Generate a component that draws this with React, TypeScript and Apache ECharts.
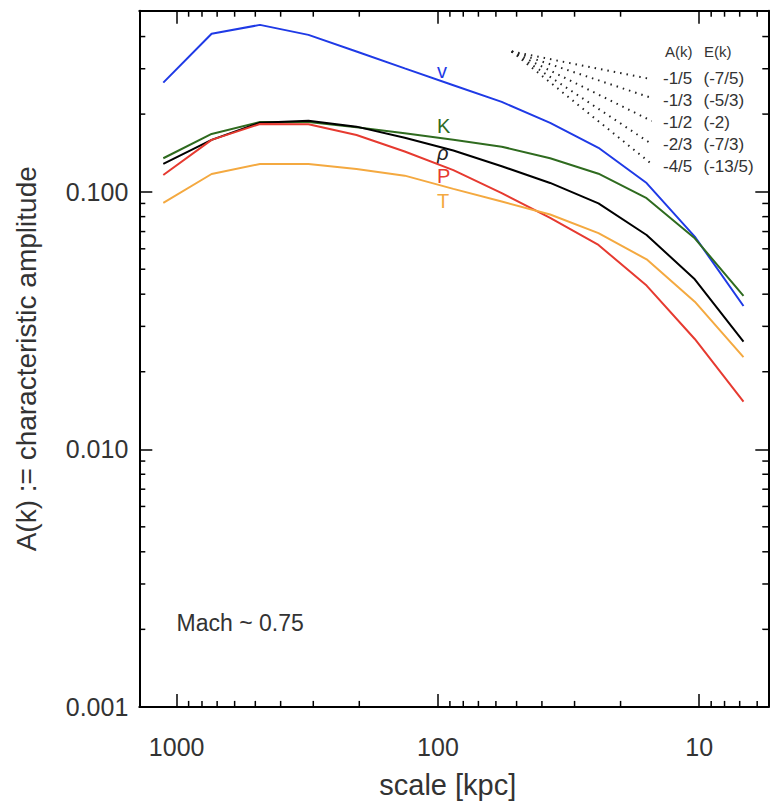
import React, { useEffect, useRef } from "react";
import * as echarts from "echarts";

// ---- data ----
const scaleKpc = [1125, 735, 480, 313, 205, 134, 87.3, 57.0, 37.2, 24.3, 15.9, 10.4, 6.77];
const ampV = [0.265, 0.41, 0.444, 0.406, 0.35, 0.301, 0.259, 0.223, 0.185, 0.148, 0.108, 0.0669, 0.036];
const ampK = [0.1348, 0.1675, 0.1865, 0.1865, 0.1778, 0.1684, 0.1592, 0.1495, 0.1348, 0.1174, 0.0943, 0.0659, 0.0394];
const ampRho = [0.1281, 0.1588, 0.1853, 0.1886, 0.1788, 0.1619, 0.1445, 0.1255, 0.1081, 0.09, 0.0679, 0.0457, 0.0262];
const ampP = [0.1161, 0.1588, 0.1831, 0.1826, 0.166, 0.1432, 0.1212, 0.0987, 0.0791, 0.0621, 0.0432, 0.0268, 0.0153];
const ampT = [0.0904, 0.1171, 0.1281, 0.1281, 0.1225, 0.1154, 0.1025, 0.0916, 0.0815, 0.069, 0.0546, 0.0374, 0.0228];

const seriesNames = ["v", "K", "ρ", "P", "T"];
const seriesColors = ["#1f3ae6", "#2f6b1f", "#000000", "#e63a30", "#f4a940"];

// power-law guide lines (A(k) slope, E(k) slope), start point and end points
const guideA = ["-1/5", "-1/3", "-1/2", "-2/3", "-4/5"];
const guideE = ["(-7/5)", "(-5/3)", "(-2)", "(-7/3)", "(-13/5)"];
const guideStart = [52.2, 0.35];
const guideEndX = 15.2;
const guideEndY = [0.273, 0.231, 0.188, 0.153, 0.128];

// axis extents and minor tick positions
const X_MIN = 5.44;
const X_MAX = 1390;
const Y_MIN = 0.001;
const Y_MAX = 0.504;
const minorXTicks = [900, 800, 700, 600, 500, 400, 300, 200, 90, 80, 70, 60, 50, 40, 30, 20, 9, 8, 7, 6];
const minorYTicks = [0.4, 0.3, 0.2, 0.09, 0.08, 0.07, 0.06, 0.05, 0.04, 0.03, 0.02, 0.009, 0.008, 0.007, 0.006, 0.005, 0.004, 0.003, 0.002];

const FONT = '"Liberation Sans", Arial, Helvetica, sans-serif';
const TXT = "#333333";

export default function App() {
  const ref = useRef<HTMLDivElement>(null);
  useEffect(() => {
    if (!ref.current) return;
    const chart = echarts.init(ref.current, undefined, { renderer: "svg" });

    const tickLine = { color: "#000", width: 1.5 };
    const axisLine = { show: true, onZero: false, lineStyle: { color: "#000", width: 2 } };

    const dataSeries = [ampV, ampK, ampRho, ampP, ampT].map((arr, i) => ({
      type: "line",
      name: seriesNames[i],
      data: scaleKpc.map((x, j) => [x, arr[j]]),
      symbol: "none",
      lineStyle: { color: seriesColors[i], width: 2 },
      z: 3,
    }));

    const guideSeries = guideEndY.map((ey) => ({
      type: "line",
      data: [guideStart, [guideEndX, ey]],
      symbol: "none",
      lineStyle: { color: "#222", width: 2, type: [1.5, 5] },
      z: 2,
    }));

    const minorX = {
      type: "custom",
      xAxisIndex: 0,
      yAxisIndex: 0,
      silent: true,
      clip: false,
      data: minorXTicks.map((v) => [v, 0.01]),
      renderItem: (params: any, api: any) => {
        const cs = params.coordSys;
        const x = api.coord([api.value(0), api.value(1)])[0];
        const b = cs.y + cs.height;
        return {
          type: "group",
          children: [
            { type: "line", shape: { x1: x, y1: b, x2: x, y2: b - 6 }, style: { stroke: "#000", lineWidth: 1.5 } },
            { type: "line", shape: { x1: x, y1: cs.y, x2: x, y2: cs.y + 6 }, style: { stroke: "#000", lineWidth: 1.5 } },
          ],
        };
      },
    };
    const minorY = {
      type: "custom",
      xAxisIndex: 0,
      yAxisIndex: 0,
      silent: true,
      clip: false,
      data: minorYTicks.map((v) => [100, v]),
      renderItem: (params: any, api: any) => {
        const cs = params.coordSys;
        const y = api.coord([api.value(0), api.value(1)])[1];
        const r = cs.x + cs.width;
        return {
          type: "group",
          children: [
            { type: "line", shape: { x1: cs.x, y1: y, x2: cs.x + 6, y2: y }, style: { stroke: "#000", lineWidth: 1.5 } },
            { type: "line", shape: { x1: r, y1: y, x2: r - 6, y2: y }, style: { stroke: "#000", lineWidth: 1.5 } },
          ],
        };
      },
    };

    const labelPos = [70.5, 126, 153, 176, 201];
    const graphics: any[] = seriesNames.map((n, i) => ({
      type: "text",
      x: 437,
      y: labelPos[i],
      style: {
        text: n,
        fill: i === 2 ? "#222" : seriesColors[i],
        font: `${i === 2 ? "italic " : ""}20px ${FONT}`,
        verticalAlign: "middle",
        align: "left",
      },
    }));
    graphics.push({
      type: "text",
      x: 665,
      y: 51,
      style: { text: "A(k)", fill: TXT, font: `15px ${FONT}`, verticalAlign: "middle" },
    });
    graphics.push({
      type: "text",
      x: 704,
      y: 51,
      style: { text: "E(k)", fill: TXT, font: `15px ${FONT}`, verticalAlign: "middle" },
    });
    guideA.forEach((t, i) => {
      const y = 78.5 + 21.9 * i;
      graphics.push({ type: "text", x: 663, y, style: { text: t, fill: TXT, font: `17px ${FONT}`, verticalAlign: "middle" } });
      graphics.push({ type: "text", x: 703.5, y, style: { text: guideE[i], fill: TXT, font: `17px ${FONT}`, verticalAlign: "middle" } });
    });
    graphics.push({
      type: "text",
      x: 176.5,
      y: 623,
      style: { text: "Mach ~ 0.75", fill: TXT, font: `23px ${FONT}`, verticalAlign: "middle" },
    });

    const option: any = {
      animation: false,
      backgroundColor: "#ffffff",
      grid: { left: 139.3, right: 13.7, top: 10.7, bottom: 103.1, containLabel: false },
      xAxis: [
        {
          type: "log",
          logBase: 10,
          min: X_MIN,
          max: X_MAX,
          inverse: true,
          position: "bottom",
          axisLine,
          axisTick: { show: true, inside: true, length: 13, lineStyle: tickLine },
          axisLabel: {
            show: true,
            margin: 28,
            fontSize: 25,
            fontFamily: FONT,
            color: TXT,
            showMinLabel: false,
            showMaxLabel: false,
            formatter: (v: number) => String(Math.round(v)),
          },
          splitLine: { show: false },
          minorTick: { show: false },
          name: "scale [kpc]",
          nameLocation: "middle",
          nameGap: 64,
          nameTextStyle: { fontSize: 29, fontFamily: FONT, color: TXT, padding: [0, 12, 0, 0] },
        },
        {
          type: "log",
          logBase: 10,
          min: X_MIN,
          max: X_MAX,
          inverse: true,
          position: "top",
          axisLine,
          axisTick: { show: true, inside: true, length: 13, lineStyle: tickLine },
          axisLabel: { show: false },
          splitLine: { show: false },
        },
      ],
      yAxis: [
        {
          type: "log",
          logBase: 10,
          min: Y_MIN,
          max: Y_MAX,
          position: "left",
          axisLine,
          axisTick: { show: true, inside: true, length: 13, lineStyle: tickLine },
          axisLabel: {
            show: true,
            margin: 11,
            fontSize: 25,
            fontFamily: FONT,
            color: TXT,
            showMinLabel: true,
            showMaxLabel: false,
            formatter: (v: number) => v.toFixed(3),
          },
          splitLine: { show: false },
          name: "A(k) := characteristic amplitude",
          nameLocation: "middle",
          nameRotate: 90,
          nameGap: 99,
          nameTextStyle: { fontSize: 28, fontFamily: FONT, color: TXT },
        },
        {
          type: "log",
          logBase: 10,
          min: Y_MIN,
          max: Y_MAX,
          position: "right",
          axisLine,
          axisTick: { show: true, inside: true, length: 13, lineStyle: tickLine },
          axisLabel: { show: false },
          splitLine: { show: false },
        },
      ],
      series: [...guideSeries, ...dataSeries, minorX, minorY],
      graphic: graphics,
    };
    chart.setOption(option);
    return () => chart.dispose();
  }, []);

  return (
    <div
      ref={ref}
      style={{ position: "fixed", left: 0, top: 0, width: 782, height: 810, background: "#fff" }}
    />
  );
}
